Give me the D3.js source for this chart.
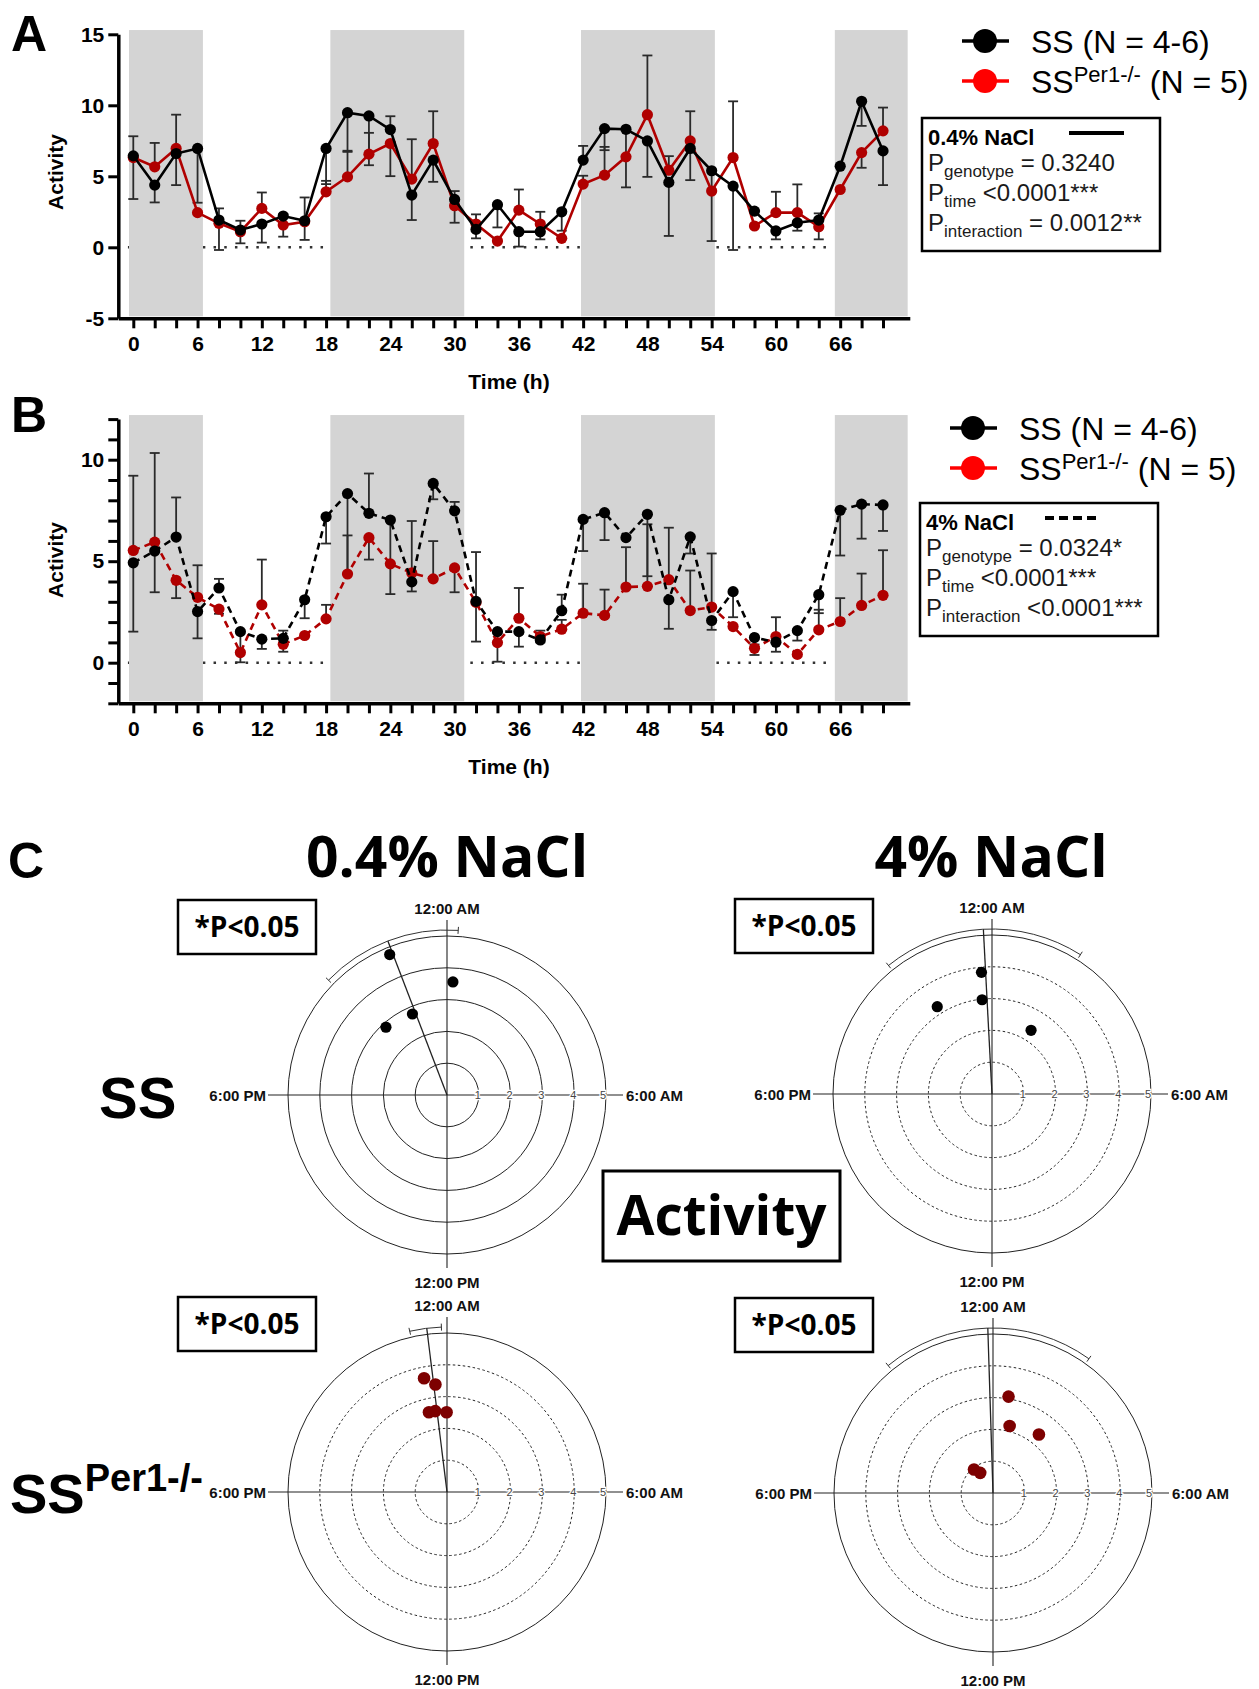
<!doctype html>
<html>
<head>
<title>Activity rhythms, SS vs SS Per1-/-</title>
<style type="text/css">
body { margin: 0; background: #fff; }
svg { display: block; }
text { font-family: "Liberation Sans", Arial, sans-serif; }
.big { font-family: "Open Sans", "Liberation Sans", sans-serif; font-weight: bold; }
</style>
<script src="https://cdnjs.cloudflare.com/ajax/libs/d3/7.8.5/d3.min.js"></script>
</head>
<body>
<script type="text/javascript">
var width = 1259, height = 1689;

var svg = d3.select("body").append("svg")
	.attr("width", width)
	.attr("height", height);

// time points (h), one every 2 h
var hours = d3.range(0, 72, 2);
var xTickLabels = [0, 6, 12, 18, 24, 30, 36, 42, 48, 54, 60, 66];
var darkBands = [[-0.4, 6.5], [18.4, 30.9], [41.8, 54.3], [65.5, 72.3]];

// A: 0.4% NaCl, means and the end of each drawn error bar (null = none visible)
var ssA = [6.44, 4.38, 6.6, 6.96, 1.92, 1.22, 1.64, 2.2, 1.87, 6.96, 9.48, 9.25, 8.29, 3.68, 6.14, 3.37, 1.26, 3.0,
	1.1, 1.1, 2.5, 6.14, 8.36, 8.31, 7.49, 4.57, 6.96, 5.39, 4.31, 2.55, 1.15, 1.73, 1.92, 5.71, 10.28, 6.79];
var perA = [6.32, 5.67, 6.96, 2.44, 1.69, 1.1, 2.74, 1.57, 1.8, 3.91, 4.96, 6.56, 7.31, 4.8, 7.31, 2.93, 1.64, 0.44,
	2.62, 1.64, 0.63, 4.45, 5.08, 6.37, 9.34, 5.43, 7.49, 3.96, 6.32, 1.5, 2.44, 2.44, 1.45, 4.07, 6.67, 8.2];
var ssErrA = [7.82, 3.16, 4.38, 3.14, 2.74, 1.87, 0.33, 2.32, 3.51, 4.45, 6.72, 5.78, 9.23, 1.92, 4.61, 3.96, 0.63, 1.4,
	0.05, 0.56, 1.17, 7.14, 6.84, 4.22, 4.96, 0.8, 4.73, 0.44, -0.19, null, 0.56, 1.17, 2.39, null, 8.55, 4.38];
var perErrA = [3.4, 7.35, 9.34, null, -0.19, 0.28, 3.86, 0.75, 0.52, 4.68, 6.8, 8.06, 5.01, 7.61, 9.58, 1.73, 2.32, null,
	4.07, 2.5, null, 5.04, 7.07, null, 13.51, 6.42, 9.58, null, 10.28, null, 3.91, 4.43, 0.56, null, 5.6, 9.84];

// B: 4% NaCl
var ssB = [4.92, 5.5, 6.19, 2.52, 3.68, 1.53, 1.16, 1.2, 3.1, 7.19, 8.33, 7.36, 7.03, 3.98, 8.83, 7.48, 3.02, 1.53,
	1.53, 1.12, 2.56, 7.06, 7.39, 6.16, 7.31, 3.1, 6.2, 2.08, 3.5, 1.24, 1.01, 1.58, 3.35, 7.51, 7.81, 7.77];
var perB = [5.53, 5.94, 4.06, 3.22, 2.64, 0.5, 2.85, 0.91, 1.34, 2.16, 4.37, 6.16, 4.87, 4.42, 4.13, 4.67, 2.97, 0.99,
	2.19, 1.29, 1.65, 2.44, 2.33, 3.73, 3.76, 4.09, 2.57, 2.74, 1.78, 0.71, 1.29, 0.41, 1.62, 2.03, 2.82, 3.32];
var ssErrB = [1.53, 3.47, 8.14, 1.2, 4.13, 0.02, 0.68, 1.58, 2.19, 5.87, 4.4, 9.32, 3.38, 3.51, 8.05, 7.92, 5.45, null,
	0.79, 1.0, 3.35, 5.5, 6.04, null, 4.26, 1.67, 5.38, 1.62, 2.24, 0.9, 0.54, 1.09, 2.44, 5.28, 6.11, 6.49];
var perErrB = [9.21, 10.33, 3.18, 4.8, 2.41, null, 5.08, 0.54, null, 2.85, 6.27, 5.08, null, 6.98, 5.99, 3.47, 1.04, 0.05,
	3.68, 1.58, 2.11, 3.89, 3.6, 5.69, 6.82, 6.65, 4.54, 5.38, null, 0.38, 2.24, null, 2.61, 3.18, 4.39, 5.54];

// C: acrophase of each animal (clock hour) and amplitude, mean phase, 95% CI (clock hours)
var ssLowHour = [22.52, 0.2, 22.46, 21.2];
var ssLowAmp = [4.77, 3.56, 2.77, 2.87];
var ssLowMean = 22.6, ssLowCI = [20.94, 24.26];
var ssHighHour = [23.67, 23.6, 21.86, 2.1];
var ssHighAmp = [3.84, 2.98, 3.24, 2.35];
var ssHighMean = 23.8, ssHighCI = [21.41, 26.16];
var perLowHour = [23.24, 23.59, 23.15, 23.45, 23.98];
var perLowAmp = [3.65, 3.4, 2.57, 2.57, 2.51];
var perLowMean = 23.53, perLowCI = [23.13, 23.87];
var perHighHour = [0.61, 0.93, 2.54, 21.4, 21.84];
var perHighAmp = [3.07, 2.17, 2.34, 0.95, 0.75];
var perHighMean = 23.88, perHighCI = [21.37, 26.37];
var ringValues = [1, 2, 3, 4, 5];

var RED = "#b00000";


function zip(a, b) {
	return hours.map(function(t, i) { return { t: t, m: a[i], e: b ? b[i] : null }; });
}

function timePanel(o) {
	var x = d3.scaleLinear().domain([-1.4, 72.5]).range([118.3, 909.8]);
	var y = d3.scaleLinear().domain(o.yDomain).range(o.yRange);
	var g = svg.append("g");

	// dotted baseline at 0 (under the bands)
	g.append("line")
		.attr("x1", x(-0.5)).attr("x2", x(65.1))
		.attr("y1", y(0)).attr("y2", y(0))
		.style("stroke", "#333").style("stroke-width", 2.5)
		.style("stroke-dasharray", "2.5,8.2");

	g.selectAll(".band").data(darkBands).enter()
		.append("rect")
		.attr("x", function(d) { return x(d[0]); })
		.attr("width", function(d) { return x(d[1]) - x(d[0]); })
		.attr("y", y(o.bandTop))
		.attr("height", y(o.yDomain[0]) - y(o.bandTop) - 2)
		.style("fill", "#d4d4d4");

	// error bars, one side only as drawn in the original
	var bars = zip(o.ss, o.ssErr).concat(zip(o.per, o.perErr))
		.filter(function(d) { return d.e !== null; });
	g.selectAll(".eb").data(bars).enter()
		.append("line")
		.attr("x1", function(d) { return x(d.t); }).attr("x2", function(d) { return x(d.t); })
		.attr("y1", function(d) { return y(d.m); }).attr("y2", function(d) { return y(d.e); })
		.style("stroke", "#2a2a2a").style("stroke-width", 1.8);
	g.selectAll(".cap").data(bars).enter()
		.append("line")
		.attr("x1", function(d) { return x(d.t) - 5; }).attr("x2", function(d) { return x(d.t) + 5; })
		.attr("y1", function(d) { return y(d.e); }).attr("y2", function(d) { return y(d.e); })
		.style("stroke", "#2a2a2a").style("stroke-width", 1.8);

	var line = d3.line()
		.x(function(d) { return x(d.t); })
		.y(function(d) { return y(d.m); });

	[[o.per, RED], [o.ss, "#000"]].forEach(function(s) {
		var pts = zip(s[0]);
		g.append("path").datum(pts)
			.attr("d", line)
			.style("fill", "none").style("stroke", s[1])
			.style("stroke-width", 2.6)
			.style("stroke-dasharray", o.dash);
		g.selectAll(null).data(pts).enter()
			.append("circle")
			.attr("cx", function(d) { return x(d.t); })
			.attr("cy", function(d) { return y(d.m); })
			.attr("r", 5.6)
			.style("fill", s[1]);
	});

	// axes
	var xAxis = d3.axisBottom(x)
		.tickValues(hours)
		.tickSize(10).tickSizeOuter(0).tickPadding(8)
		.tickFormat(function(d) { return xTickLabels.indexOf(d) >= 0 ? d : ""; });
	var ax = g.append("g")
		.attr("transform", "translate(0," + y(o.yDomain[0]) + ")")
		.call(xAxis);

	var yAxis = d3.axisLeft(y)
		.tickValues(o.yTicks)
		.tickSize(10).tickSizeOuter(0).tickPadding(4)
		.tickFormat(function(d) { return o.yLabels.indexOf(d) >= 0 ? d : ""; });
	var ay = g.append("g")
		.attr("transform", "translate(" + x(-1.4) + ",0)")
		.call(yAxis);

	[ax, ay].forEach(function(a) {
		a.select(".domain").style("stroke", "#000").style("stroke-width", 3.5);
		a.selectAll(".tick line").style("stroke", "#000").style("stroke-width", 3);
		a.selectAll(".tick text")
			.style("font-family", "'Liberation Sans', Arial, sans-serif")
			.style("font-weight", "bold").style("font-size", "21px").style("fill", "#000");
	});

	g.append("text")
		.attr("transform", "translate(63," + o.yLabelY + ") rotate(-90)")
		.attr("text-anchor", "middle")
		.style("font-weight", "bold").style("font-size", "21px")
		.text("Activity");
	g.append("text")
		.attr("x", 509).attr("y", o.xLabelY)
		.attr("text-anchor", "middle")
		.style("font-weight", "bold").style("font-size", "21px")
		.text("Time (h)");
	g.append("text")
		.attr("x", 11).attr("y", o.letterY)
		.style("font-weight", "bold").style("font-size", "50px")
		.text(o.letter);
}

function legend(x0, y0) {
	var rows = [["#000", "SS", "", " (N = 4-6)"], ["#ff0000", "SS", "Per1-/-", " (N = 5)"]];
	rows.forEach(function(r, i) {
		var cy = y0 + i * 40;
		svg.append("line")
			.attr("x1", x0 - 23).attr("x2", x0 + 24)
			.attr("y1", cy).attr("y2", cy)
			.style("stroke", r[0]).style("stroke-width", 3.5);
		svg.append("circle")
			.attr("cx", x0).attr("cy", cy).attr("r", 12)
			.style("fill", r[0]);
		var t = svg.append("text")
			.attr("x", x0 + 46).attr("y", cy + 11.5)
			.style("font-size", "32px");
		t.append("tspan").text(r[1]);
		if (r[2]) t.append("tspan").attr("dy", -11).style("font-size", "22px").text(r[2]);
		t.append("tspan").attr("dy", r[2] ? 11 : 0).text(r[3]);
	});
}

function statsBox(x0, y0, title, dash, lineX, rows) {
	svg.append("rect")
		.attr("x", x0).attr("y", y0).attr("width", 238).attr("height", 133)
		.style("fill", "#fff").style("stroke", "#000").style("stroke-width", 2.5);
	svg.append("text")
		.attr("x", x0 + 6).attr("y", y0 + 27)
		.style("font-weight", "bold").style("font-size", "22px")
		.text(title);
	svg.append("line")
		.attr("x1", x0 + lineX).attr("x2", x0 + lineX + 55)
		.attr("y1", y0 + 15).attr("y2", y0 + 15)
		.style("stroke", "#000").style("stroke-width", 4)
		.style("stroke-dasharray", dash);
	rows.forEach(function(r, i) {
		var t = svg.append("text")
			.attr("x", x0 + 6).attr("y", y0 + 53 + i * 30)
			.style("font-size", "24px").style("fill", "#1a1a1a");
		t.append("tspan").text("P");
		t.append("tspan").attr("dy", 6).style("font-size", "17px").text(r[0]);
		t.append("tspan").attr("dy", -6).text(r[1]);
	});
}


timePanel({
	letter: "A", letterY: 51,
	ss: ssA, per: perA, ssErr: ssErrA, perErr: perErrA,
	yDomain: [-5, 15], yRange: [318.3, 34.3], bandTop: 15.3,
	yTicks: [-5, 0, 5, 10, 15], yLabels: [-5, 0, 5, 10, 15],
	yLabelY: 172, xLabelY: 389, dash: null
});
timePanel({
	letter: "B", letterY: 432,
	ss: ssB, per: perB, ssErr: ssErrB, perErr: perErrB,
	yDomain: [-2, 12], yRange: [703.3, 419.1], bandTop: 12.2,
	yTicks: d3.range(-2, 13, 1), yLabels: [0, 5, 10],
	yLabelY: 560, xLabelY: 774, dash: "7,5"
});

legend(985, 41);
legend(973, 428);
statsBox(922, 118, "0.4% NaCl", null, 147,
	[["genotype", " = 0.3240"], ["time", " <0.0001***"], ["interaction", " = 0.0012**"]]);
statsBox(920, 503, "4% NaCl", "9,5", 125,
	[["genotype", " = 0.0324*"], ["time", " <0.0001***"], ["interaction", " <0.0001***"]]);


// ---- panel C: polar acrophase plots ----
function polar(o) {
	var r = d3.scaleLinear().domain([0, 5]).range([0, 159]);
	var ang = d3.scaleLinear().domain([0, 24]).range([0, 2 * Math.PI]);
	var g = svg.append("g").attr("transform", "translate(" + o.cx + "," + o.cy + ")");

	g.selectAll(".ring").data(ringValues).enter()
		.append("circle")
		.attr("r", function(d) { return r(d); })
		.style("fill", "none").style("stroke", "#222").style("stroke-width", 1)
		.style("stroke-dasharray", function(d) { return (o.dashed && d < 5) ? "2.5,2.5" : null; });

	g.append("line").attr("x1", -179).attr("x2", 176).attr("y1", 0).attr("y2", 0)
		.style("stroke", "#222").style("stroke-width", 1.1);
	g.append("line").attr("x1", 0).attr("x2", 0).attr("y1", -175).attr("y2", 173)
		.style("stroke", "#222").style("stroke-width", 1.1);

	g.selectAll(".rl").data(ringValues).enter()
		.append("text")
		.attr("x", function(d) { return r(d) - (d === 5 ? 3 : 1); })
		.attr("y", 4)
		.attr("text-anchor", "middle")
		.style("font-size", "11px").style("fill", "#444")
		.style("stroke", "#fff").style("stroke-width", 2.5).style("paint-order", "stroke")
		.text(function(d) { return d; });

	var lab = [["12:00 AM", 0, -181, "middle"], ["12:00 PM", 0, 193, "middle"],
		["6:00 PM", -181, 5.5, "end"], ["6:00 AM", 179, 5.5, "start"]];
	g.selectAll(".cl").data(lab).enter()
		.append("text")
		.attr("x", function(d) { return d[1]; })
		.attr("y", function(d) { return d[2]; })
		.attr("text-anchor", function(d) { return d[3]; })
		.style("font-weight", "bold").style("font-size", "15px").style("fill", "#111")
		.text(function(d) { return d[0]; });

	// confidence arc with end caps
	var arcR = 165;
	var p = d3.path();
	p.arc(0, 0, arcR, ang(o.ci[0]) - Math.PI / 2, ang(o.ci[1]) - Math.PI / 2);
	g.append("path").attr("d", p.toString())
		.style("fill", "none").style("stroke", "#333").style("stroke-width", 1);
	g.selectAll(".ciCap").data(o.ci).enter()
		.append("line")
		.attr("x1", function(d) { return (arcR - 3.5) * Math.sin(ang(d)); })
		.attr("y1", function(d) { return -(arcR - 3.5) * Math.cos(ang(d)); })
		.attr("x2", function(d) { return (arcR + 3.5) * Math.sin(ang(d)); })
		.attr("y2", function(d) { return -(arcR + 3.5) * Math.cos(ang(d)); })
		.style("stroke", "#333").style("stroke-width", 1);

	// mean phase vector
	g.append("line")
		.attr("x1", 0).attr("y1", 0)
		.attr("x2", arcR * Math.sin(ang(o.mean)))
		.attr("y2", -arcR * Math.cos(ang(o.mean)))
		.style("stroke", "#222").style("stroke-width", 1.3);

	g.selectAll(".pt").data(o.hour).enter()
		.append("circle")
		.attr("cx", function(d, i) { return r(o.amp[i]) * Math.sin(ang(d)); })
		.attr("cy", function(d, i) { return -r(o.amp[i]) * Math.cos(ang(d)); })
		.attr("r", o.dot)
		.style("fill", o.color);

	// significance box
	svg.append("rect")
		.attr("x", o.boxX).attr("y", o.cy - 195).attr("width", 138).attr("height", 54)
		.style("fill", "#fff").style("stroke", "#000").style("stroke-width", 2.5);
	svg.append("text")
		.attr("class", "big")
		.attr("x", o.boxX + 69).attr("y", o.cy - 158)
		.attr("text-anchor", "middle")
		.style("font-size", "28px")
		.text("*P<0.05");
}

polar({ cx: 447, cy: 1095, boxX: 178, hour: ssLowHour, amp: ssLowAmp, mean: ssLowMean, ci: ssLowCI,
	dashed: false, color: "#000", dot: 5.6 });
polar({ cx: 992, cy: 1094, boxX: 735, hour: ssHighHour, amp: ssHighAmp, mean: ssHighMean, ci: ssHighCI,
	dashed: true, color: "#000", dot: 5.6 });
polar({ cx: 447, cy: 1492, boxX: 178, hour: perLowHour, amp: perLowAmp, mean: perLowMean, ci: perLowCI,
	dashed: true, color: "#7d0000", dot: 6.3 });
polar({ cx: 993, cy: 1493, boxX: 735, hour: perHighHour, amp: perHighAmp, mean: perHighMean, ci: perHighCI,
	dashed: true, color: "#7d0000", dot: 6.3 });

svg.append("text").attr("x", 8).attr("y", 878)
	.style("font-weight", "bold").style("font-size", "50px").text("C");
svg.append("text").attr("class", "big")
	.attr("x", 447).attr("y", 877).attr("text-anchor", "middle")
	.style("font-size", "57px").text("0.4% NaCl");
svg.append("text").attr("class", "big")
	.attr("x", 991).attr("y", 877).attr("text-anchor", "middle")
	.style("font-size", "57px").text("4% NaCl");
svg.append("text").attr("x", 99).attr("y", 1118)
	.style("font-weight", "bold").style("font-size", "58px").text("SS");
var rowLab = svg.append("text").attr("x", 10).attr("y", 1513)
	.style("font-weight", "bold").style("font-size", "56px");
rowLab.append("tspan").text("SS");
rowLab.append("tspan").attr("dy", -22).style("font-size", "38px").text("Per1-/-");

svg.append("rect")
	.attr("x", 603).attr("y", 1171).attr("width", 237).attr("height", 90)
	.style("fill", "#fff").style("stroke", "#000").style("stroke-width", 3);
svg.append("text").attr("class", "big")
	.attr("x", 721.5).attr("y", 1235).attr("text-anchor", "middle")
	.style("font-size", "55px").text("Activity");
</script>
</body>
</html>
